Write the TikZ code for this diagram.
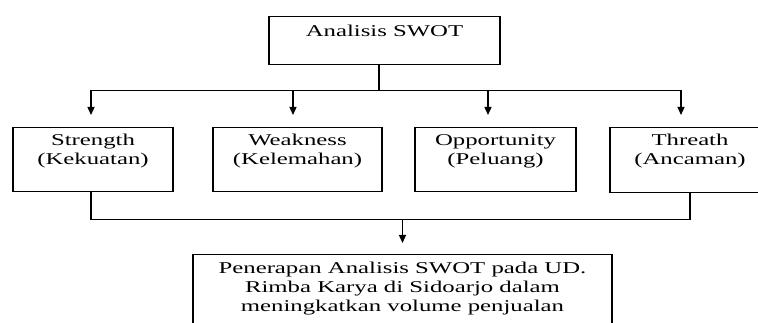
\documentclass[tikz,border=0pt]{standalone}
\usepackage{fontspec}
\setmainfont[FakeStretch=1.5]{Liberation Serif}
\usetikzlibrary{arrows.meta}
\begin{document}
\begin{tikzpicture}[x=1pt,y=-1pt,
  box/.style={draw,line width=1.3pt,inner sep=0pt,align=center,anchor=north,
    font=\fontsize{16.5}{19}\selectfont},
  swotbox/.style={box,text height=36.5pt,text depth=27.5pt},
  link/.style={line width=1.3pt},
  arrow/.style={link,-{Triangle[width=7pt,length=8pt]}}]
\useasboundingbox (0,0) rectangle (758,323);
% top
\node[box,minimum width=231pt,text height=19.7pt,text depth=28.3pt] (swot) at (384.5,16) {Analisis SWOT};
% the four factors
\node[swotbox,minimum width=160pt] (strength) at (93,127) {Strength\\(Kekuatan)};
\node[swotbox,minimum width=169pt] (weakness) at (297.5,127) {Weakness\\(Kelemahan)};
\node[swotbox,minimum width=161pt] (opportunity) at (495.5,127) {Opportunity\\(Peluang)};
\node[swotbox,minimum width=160pt,text depth=28.5pt] (threath) at (690,127) {Threath\\(Ancaman)};
% result
\node[box,minimum width=419pt,text height=56.7pt,text depth=43pt] (penerapan) at (402.5,254)
  {Penerapan Analisis SWOT pada UD.\\Rimba Karya di Sidoarjo dalam\\meningkatkan volume penjualan};
% connectors
\draw[link] ([xshift=-5.5pt]swot.south) -- ++(0,25) coordinate (fork);
\draw[link] ([xshift=-2pt]strength.north |- fork) -- ([xshift=-9pt]threath.north |- fork);
\foreach \n/\dx in {strength/-2,weakness/-4.5,opportunity/-7.5,threath/-9}
  \draw[arrow,shorten >=12pt] ([xshift=\dx pt]\n.north |- fork) -- ([xshift=\dx pt]\n.north);
\draw[link] ([xshift=-2pt]strength.south) -- ++(0,27) coordinate (join) -| (threath.south);
\draw[arrow,shorten >=11pt] (penerapan.north |- join) -- (penerapan.north);
\end{tikzpicture}
\end{document}
